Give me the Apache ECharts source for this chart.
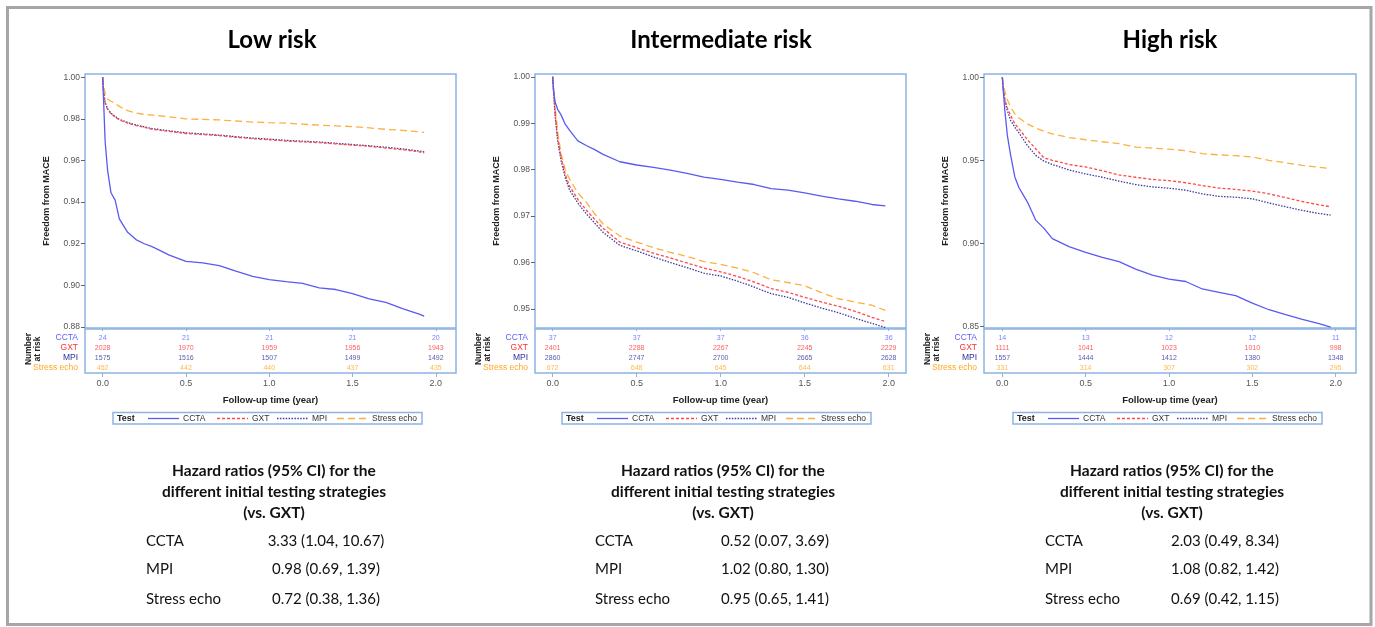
<!DOCTYPE html>
<html><head><meta charset="utf-8">
<script src="https://cdn.jsdelivr.net/npm/echarts@6/dist/echarts.min.js"></script>
<style>html,body{margin:0;padding:0;background:#fff}#c{width:1375px;height:627px}</style>
</head><body><div id="c"></div><script>
// ---------- data ----------
const groups = ['CCTA', 'GXT', 'MPI', 'Stress echo'];
const panelTitles = ['Low risk', 'Intermediate risk', 'High risk'];
const xTicks = [0, 0.5, 1.0, 1.5, 2.0];
const yTicksLow = [0.88, 0.90, 0.92, 0.94, 0.96, 0.98, 1.00];
const yTicksMid = [0.95, 0.96, 0.97, 0.98, 0.99, 1.00];
const yTicksHigh = [0.85, 0.90, 0.95, 1.00];

const timeLow  = [0, 0.005, 0.015, 0.03, 0.05, 0.075, 0.1, 0.15, 0.2, 0.25, 0.3, 0.4, 0.5, 0.6, 0.7, 0.8, 0.9, 1.0, 1.1, 1.2, 1.3, 1.4, 1.5, 1.6, 1.7, 1.8, 1.9, 1.93];
const timeMid  = [0, 0.005, 0.015, 0.03, 0.05, 0.075, 0.1, 0.15, 0.2, 0.25, 0.3, 0.4, 0.5, 0.6, 0.7, 0.8, 0.9, 1.0, 1.1, 1.2, 1.3, 1.4, 1.5, 1.6, 1.7, 1.8, 1.9, 1.98];
const timeHigh = [0, 0.005, 0.015, 0.03, 0.05, 0.075, 0.1, 0.15, 0.2, 0.25, 0.3, 0.4, 0.5, 0.6, 0.7, 0.8, 0.9, 1.0, 1.1, 1.2, 1.3, 1.4, 1.5, 1.6, 1.7, 1.8, 1.9, 1.97];

const lowCCTA = [1.0, 0.990, 0.969, 0.955, 0.9445, 0.941, 0.932, 0.9255, 0.922, 0.920, 0.9185, 0.9145, 0.9115, 0.9108, 0.9095, 0.9068, 0.9043, 0.9028, 0.9018, 0.901, 0.8988, 0.898, 0.896, 0.8935, 0.8918, 0.8888, 0.8862, 0.8852];
const lowGXT  = [1.0, 0.993, 0.9875, 0.9845, 0.9825, 0.981, 0.9795, 0.978, 0.9768, 0.976, 0.975, 0.974, 0.973, 0.9725, 0.972, 0.9712, 0.9705, 0.970, 0.9694, 0.969, 0.9686, 0.968, 0.9674, 0.9668, 0.966, 0.9652, 0.9642, 0.9637];
const lowMPI  = [1.0, 0.9935, 0.988, 0.9848, 0.9828, 0.9812, 0.9798, 0.9783, 0.9771, 0.9762, 0.9753, 0.9743, 0.9733, 0.9728, 0.9722, 0.9715, 0.9708, 0.9703, 0.9697, 0.9693, 0.9689, 0.9683, 0.9677, 0.9671, 0.9664, 0.9656, 0.9646, 0.9641];
const lowSE   = [1.0, 0.997, 0.992, 0.9895, 0.9885, 0.9875, 0.986, 0.984, 0.9828, 0.9822, 0.9818, 0.981, 0.980, 0.9798, 0.9795, 0.979, 0.9785, 0.9782, 0.978, 0.9775, 0.977, 0.9767, 0.9763, 0.9757, 0.975, 0.9745, 0.9738, 0.9735];

const midCCTA = [1.0, 0.997, 0.9945, 0.993, 0.9918, 0.9898, 0.9885, 0.9862, 0.9852, 0.9843, 0.9833, 0.9817, 0.981, 0.9805, 0.9799, 0.9792, 0.9784, 0.9779, 0.9773, 0.9768, 0.9759, 0.9756, 0.975, 0.9743, 0.9737, 0.9732, 0.9725, 0.9722];
const midGXT  = [1.0, 0.9975, 0.992, 0.9868, 0.9826, 0.979, 0.9765, 0.9736, 0.9713, 0.9693, 0.9674, 0.9644, 0.9632, 0.962, 0.961, 0.9599, 0.9588, 0.958, 0.957, 0.9558, 0.9544, 0.9536, 0.9525, 0.9515, 0.9506, 0.9495, 0.9482, 0.9473];
const midMPI  = [1.0, 0.9972, 0.9915, 0.9862, 0.982, 0.9783, 0.9757, 0.9728, 0.9705, 0.9685, 0.9665, 0.9637, 0.9625, 0.9612, 0.960, 0.9589, 0.9577, 0.9571, 0.956, 0.9547, 0.9533, 0.9525, 0.9513, 0.9502, 0.9492, 0.948, 0.9469, 0.946];
const midSE   = [1.0, 0.998, 0.9935, 0.988, 0.9835, 0.980, 0.978, 0.975, 0.973, 0.9705, 0.9683, 0.9657, 0.9644, 0.9632, 0.9622, 0.9613, 0.9602, 0.9596, 0.9588, 0.9578, 0.9563, 0.9557, 0.955, 0.9535, 0.9522, 0.9515, 0.9508, 0.9497];

const highCCTA = [1.0, 0.993, 0.980, 0.965, 0.953, 0.940, 0.9335, 0.925, 0.914, 0.909, 0.9028, 0.898, 0.8945, 0.8915, 0.889, 0.8845, 0.8808, 0.8785, 0.877, 0.8725, 0.8705, 0.8685, 0.864, 0.860, 0.857, 0.8542, 0.8517, 0.8496];
const highGXT  = [1.0, 0.994, 0.987, 0.9815, 0.977, 0.972, 0.969, 0.9625, 0.957, 0.9515, 0.950, 0.9475, 0.946, 0.9437, 0.9412, 0.9398, 0.9385, 0.9378, 0.9365, 0.9348, 0.9333, 0.9325, 0.9315, 0.9298, 0.9275, 0.9252, 0.9232, 0.922];
const highMPI  = [1.0, 0.993, 0.986, 0.980, 0.974, 0.970, 0.9665, 0.959, 0.953, 0.9495, 0.9475, 0.9442, 0.9418, 0.9398, 0.9375, 0.9354, 0.934, 0.9332, 0.932, 0.9298, 0.9283, 0.9278, 0.9268, 0.9243, 0.922, 0.9198, 0.918, 0.917];
const highSE   = [1.0, 0.996, 0.9915, 0.9865, 0.982, 0.978, 0.9755, 0.972, 0.9695, 0.9675, 0.966, 0.9637, 0.9624, 0.9612, 0.960, 0.958, 0.9574, 0.9567, 0.9558, 0.954, 0.9533, 0.9528, 0.952, 0.950, 0.9485, 0.947, 0.9458, 0.945];

const riskLowCCTA = [24, 21, 21, 21, 20];
const riskLowGXT  = [2028, 1970, 1959, 1956, 1943];
const riskLowMPI  = [1575, 1516, 1507, 1499, 1492];
const riskLowSE   = [452, 442, 440, 437, 435];
const riskMidCCTA = [37, 37, 37, 36, 36];
const riskMidGXT  = [2401, 2288, 2267, 2245, 2229];
const riskMidMPI  = [2860, 2747, 2700, 2665, 2628];
const riskMidSE   = [672, 648, 645, 644, 631];
const riskHighCCTA = [14, 13, 12, 12, 11];
const riskHighGXT  = [1111, 1041, 1023, 1010, 998];
const riskHighMPI  = [1557, 1444, 1412, 1380, 1348];
const riskHighSE   = [331, 314, 307, 302, 295];

const hrHeading = ['Hazard ratios (95% CI) for the', 'different initial testing strategies', '(vs. GXT)'];
const hrRows = ['CCTA', 'MPI', 'Stress echo'];
const hrLow  = ['3.33 (1.04, 10.67)', '0.98 (0.69, 1.39)', '0.72 (0.38, 1.36)'];
const hrMid  = ['0.52 (0.07, 3.69)', '1.02 (0.80, 1.30)', '0.95 (0.65, 1.41)'];
const hrHigh = ['2.03 (0.49, 8.34)', '1.08 (0.82, 1.42)', '0.69 (0.42, 1.15)'];

// ---------- styling / layout ----------
const FONT = '"Liberation Sans", Arial, sans-serif';
const HFONT = 'Lato, "Open Sans", sans-serif';
const frameColor = '#8db3e2';
const lineColors = ['#5a5af2', '#ff4848', '#3c3c9e', '#fbb040'];
const labelColors = ['#5c5cff', '#ff3434', '#30309a', '#ffa820'];
const lineTypes = ['solid', [3, 2], [1.5, 1.4], [7, 4]];
const legendOffsets = [35, 104, 164, 224];

const panels = [
  { time: timeLow, curves: [lowCCTA, lowGXT, lowMPI, lowSE], risk: [riskLowCCTA, riskLowGXT, riskLowMPI, riskLowSE],
    yTicks: yTicksLow, yMin: 0.8795, yMax: 1.0016, xMin: -0.106, xMax: 2.121, left: 85, width: 371,
    cx: 272, hr: hrLow, hrLeft: 146, legLeft: 113 },
  { time: timeMid, curves: [midCCTA, midGXT, midMPI, midSE], risk: [riskMidCCTA, riskMidGXT, riskMidMPI, riskMidSE],
    yTicks: yTicksMid, yMin: 0.9459, yMax: 1.0006, xMin: -0.105, xMax: 2.103, left: 535, width: 371,
    cx: 721, hr: hrMid, hrLeft: 595, legLeft: 562 },
  { time: timeHigh, curves: [highCCTA, highGXT, highMPI, highSE], risk: [riskHighCCTA, riskHighGXT, riskHighMPI, riskHighSE],
    yTicks: yTicksHigh, yMin: 0.849, yMax: 1.002, xMin: -0.11, xMax: 2.122, left: 984, width: 372,
    cx: 1170, hr: hrHigh, hrLeft: 1045, legLeft: 1013 }
];

const grid = [], xAxis = [], yAxis = [], series = [], graphic = [];

graphic.push({ type: 'rect', shape: { x: 7.5, y: 7.5, width: 1363.5, height: 617 },
  style: { fill: 'none', stroke: '#a6a6a6', lineWidth: 3 }, z: 100 });

const rich = {};
groups.forEach((g, i) => { rich['r' + i] = { color: labelColors[i], fontSize: 8.5, fontFamily: FONT }; });

panels.forEach((p, k) => {
  grid.push({ left: p.left, top: 74, width: p.width, height: 254, show: true, borderColor: frameColor, borderWidth: 1.5 });
  grid.push({ left: p.left, top: 329, width: p.width, height: 44, show: true, borderColor: frameColor, borderWidth: 1.5 });

  xAxis.push({ type: 'value', gridIndex: 2 * k, min: p.xMin, max: p.xMax,
    axisLine: { show: false, onZero: false }, splitLine: { show: false },
    axisLabel: { show: false },
    axisTick: { show: true, length: 3, customValues: xTicks, lineStyle: { color: frameColor } } });
  xAxis.push({ type: 'value', gridIndex: 2 * k + 1, min: p.xMin, max: p.xMax,
    axisLine: { show: false, onZero: false }, splitLine: { show: false },
    axisTick: { show: true, length: 4, customValues: xTicks, lineStyle: { color: frameColor } },
    axisLabel: { customValues: xTicks, formatter: v => v.toFixed(1), fontSize: 9, color: '#555', margin: 6, fontFamily: FONT },
    name: 'Follow-up time (year)', nameLocation: 'middle', nameGap: 22,
    nameTextStyle: { fontWeight: 'bold', fontSize: 9.5, color: '#222', fontFamily: FONT } });

  yAxis.push({ type: 'value', gridIndex: 2 * k, min: p.yMin, max: p.yMax,
    axisLine: { show: false, onZero: false }, splitLine: { show: false },
    axisTick: { show: true, length: 4, customValues: p.yTicks, lineStyle: { color: '#666' } },
    axisLabel: { customValues: p.yTicks, formatter: v => v.toFixed(2), fontSize: 8.5, color: '#555', margin: 5, fontFamily: FONT },
    name: 'Freedom from MACE', nameLocation: 'middle', nameGap: 34, nameRotate: 90,
    nameTextStyle: { fontWeight: 'bold', fontSize: 9, color: '#222', fontFamily: FONT } });
  yAxis.push({ type: 'value', gridIndex: 2 * k + 1, min: -0.9, max: 3.5, inverse: true,
    axisLine: { show: false, onZero: false }, splitLine: { show: false }, axisTick: { show: false },
    axisLabel: { customValues: [0, 1, 2, 3], formatter: v => '{r' + v + '|' + groups[v] + '}', rich: rich, margin: 7 } });

  groups.forEach((g, gi) => {
    series.push({ type: 'line', name: g, xAxisIndex: 2 * k, yAxisIndex: 2 * k,
      data: p.time.map((t, i) => [t, p.curves[gi][i]]),
      symbol: 'none', showSymbol: false, smooth: false, z: 10 - gi,
      lineStyle: { color: lineColors[gi], width: 1.3, type: lineTypes[gi] },
      itemStyle: { color: lineColors[gi] } });
    series.push({ type: 'scatter', name: 'risk ' + g, xAxisIndex: 2 * k + 1, yAxisIndex: 2 * k + 1,
      data: xTicks.map((t, i) => [t, gi, p.risk[gi][i]]),
      symbolSize: 1, itemStyle: { color: 'transparent' }, silent: true,
      label: { show: true, position: 'inside', formatter: q => String(q.value[2]),
        fontSize: 7, color: labelColors[gi], fontFamily: FONT } });
    // legend entry (line sample + name)
    const lx = p.legLeft + legendOffsets[gi];
    graphic.push({ type: 'line', shape: { x1: lx, y1: 418.5, x2: lx + 31, y2: 418.5 },
      style: { stroke: lineColors[gi], lineWidth: 1.3, lineDash: gi === 0 ? null : lineTypes[gi] } });
    graphic.push({ type: 'text', x: lx + 35, y: 418.5,
      style: { text: g, font: '8.5px ' + FONT, fill: '#333', align: 'left', verticalAlign: 'middle' } });
  });

  // title
  graphic.push({ type: 'text', x: p.cx, y: 40, style: { text: panelTitles[k], font: 'bold 24px ' + HFONT,
    fill: '#000', align: 'center', verticalAlign: 'middle' } });
  // number at risk
  graphic.push({ type: 'text', x: p.left - 52, y: 349, rotation: Math.PI / 2,
    style: { text: 'Number\nat risk', font: 'bold 8.5px ' + FONT, fill: '#222', align: 'center',
      verticalAlign: 'middle', lineHeight: 9 } });
  // legend box
  graphic.push({ type: 'rect', shape: { x: p.legLeft, y: 412.5, width: 309, height: 11.5 },
    style: { fill: 'none', stroke: frameColor, lineWidth: 1.5 } });
  graphic.push({ type: 'text', x: p.legLeft + 4, y: 418.5,
    style: { text: 'Test', font: 'bold 9px ' + FONT, fill: '#222', align: 'left', verticalAlign: 'middle' } });
  // hazard ratios
  hrHeading.forEach((h, i) => {
    graphic.push({ type: 'text', x: p.cx + 2, y: 471 + 21 * i,
      style: { text: h, font: 'bold 15.5px ' + HFONT, fill: '#111', align: 'center', verticalAlign: 'middle' } });
  });
  hrRows.forEach((r, i) => {
    const y = [541, 569.5, 599][i];
    graphic.push({ type: 'text', x: p.hrLeft, y: y,
      style: { text: r, font: '15px ' + HFONT, fill: '#111', align: 'left', verticalAlign: 'middle' } });
    graphic.push({ type: 'text', x: p.hrLeft + 180, y: y,
      style: { text: p.hr[i], font: '15px ' + HFONT, fill: '#111', align: 'center', verticalAlign: 'middle' } });
  });
});

const chart = echarts.init(document.getElementById('c'), null, { renderer: 'canvas' });
chart.setOption({ animation: false, backgroundColor: '#fff', grid, xAxis, yAxis, series, graphic });
</script></body></html>
